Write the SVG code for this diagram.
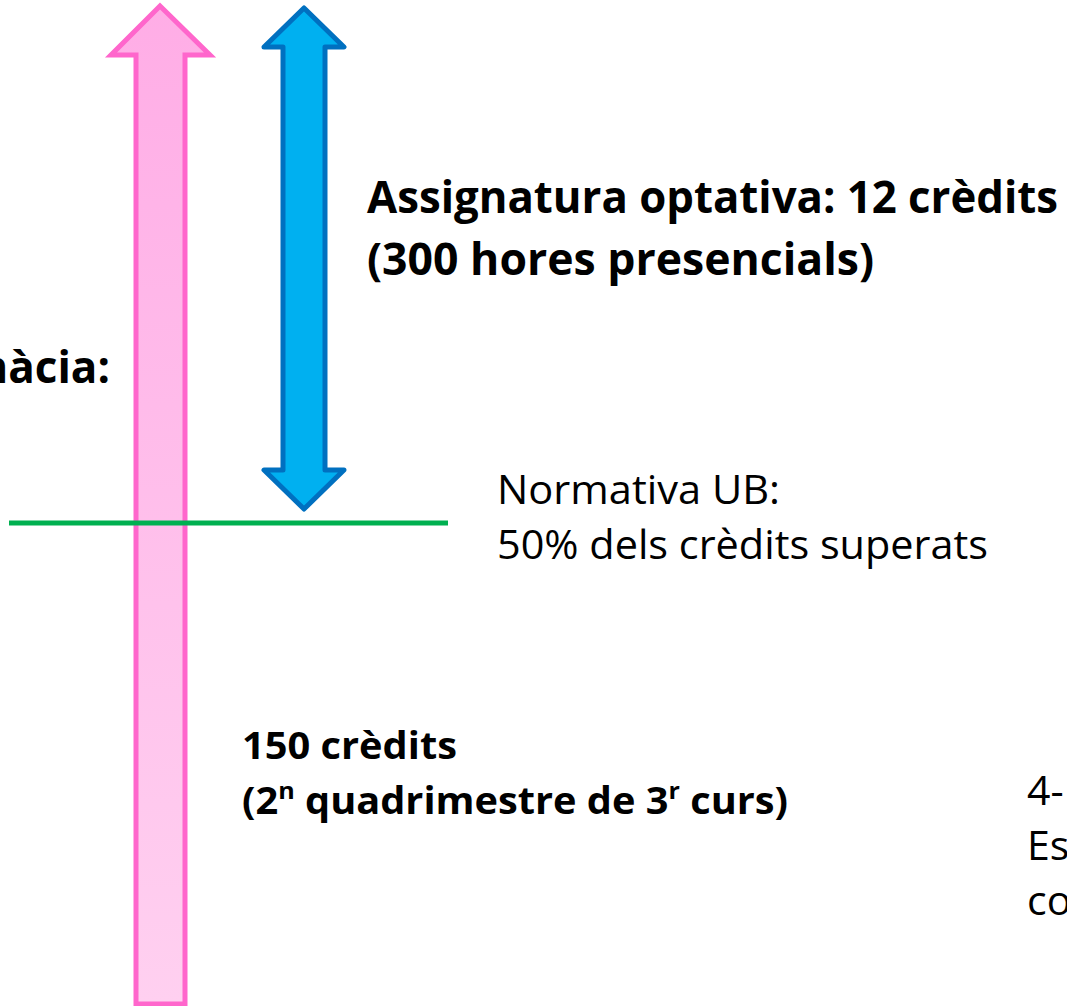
<svg xmlns="http://www.w3.org/2000/svg" width="1067" height="1006" viewBox="0 0 1067 1006">
<style>
.b{font-family:"Open Sans","Liberation Sans",sans-serif;font-weight:bold;fill:#000}
.r{font-family:"Open Sans","Liberation Sans",sans-serif;font-weight:normal;fill:#000}
</style>
<defs>
<linearGradient id="pinkV" x1="0" y1="0" x2="0" y2="1">
<stop offset="0" stop-color="#FFADE6"/>
<stop offset="1" stop-color="#FFD0F0"/>
</linearGradient>
</defs>
<rect width="1067" height="1006" fill="#fff"/>
<g id="connectors">
<g id="pink-arrow">
<polygon points="160,6 210,55 185,55 185,1004 136,1004 136,55 111,55" fill="url(#pinkV)" stroke="#FF66CC" stroke-width="5" stroke-linejoin="miter"/>
</g>
<g id="blue-arrow">
<polygon points="304,8 344,47 325,47 325,470 344,470 304,509 264,470 283,470 283,47 264,47" fill="#00B0F0" stroke="#0070C0" stroke-width="5" stroke-linejoin="round"/>
</g>
<g id="green-line">
<line x1="9" y1="523" x2="448" y2="523" stroke="#00B050" stroke-width="5"/>
</g>
</g>
<g id="optativa">
<text class="b" font-size="44" x="367" y="213" textLength="691" lengthAdjust="spacingAndGlyphs">Assignatura optativa: 12 crèdits</text>
<text class="b" font-size="44" x="367" y="275" textLength="507" lengthAdjust="spacingAndGlyphs">(300 hores presencials)</text>
</g>
<g id="farmacia">
<text class="b" font-size="44" x="110" y="383" text-anchor="end">màcia:</text>
</g>
<g id="normativa">
<text class="r" font-size="41" x="497" y="504" textLength="283" lengthAdjust="spacingAndGlyphs">Normativa UB:</text>
<text class="r" font-size="41" x="497" y="559" textLength="491" lengthAdjust="spacingAndGlyphs">50% dels crèdits superats</text>
</g>
<g id="credits150">
<text class="b" font-size="38" x="242" y="759" textLength="215" lengthAdjust="spacingAndGlyphs">150 crèdits</text>
<text class="b" font-size="38" x="242" y="814" textLength="546" lengthAdjust="spacingAndGlyphs">(2<tspan font-size="24" dy="-15">n</tspan><tspan dy="15"> quadrimestre de 3</tspan><tspan font-size="24" dy="-15">r</tspan><tspan dy="15"> curs)</tspan></text>
</g>
<g id="right-text">
<text class="r" font-size="41" x="1027" y="805">4-</text>
<text class="r" font-size="41" x="1027" y="860">Es</text>
<text class="r" font-size="41" x="1027" y="915">co</text>
</g>
</svg>
